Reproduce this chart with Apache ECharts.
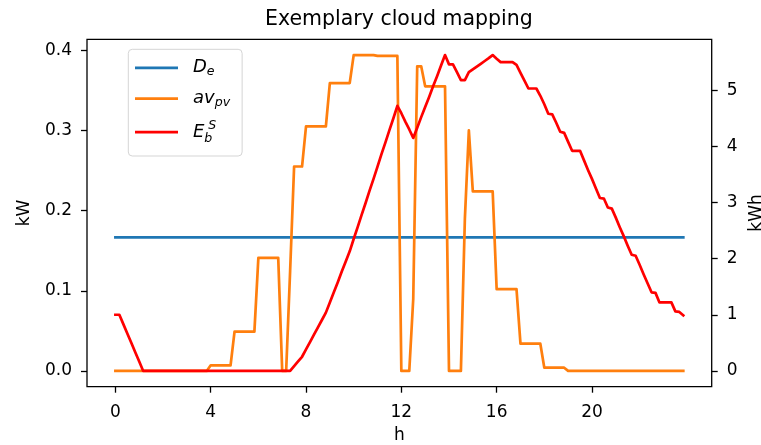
<!DOCTYPE html>
<html><head><meta charset="utf-8">
<script src="https://cdn.jsdelivr.net/npm/echarts@6/dist/echarts.min.js"></script>
<style>html,body{margin:0;padding:0;background:#fff}#c{width:761px;height:445px}</style>
</head><body><div id="c"></div>
<script>
// time stamps (minutes after midnight), 10-minute resolution
const minutes = [
  0,10,20,30,40,50, 60,70,80,90,100,110, 120,130,140,150,160,170, 180,190,200,210,220,230,
  240,250,260,270,280,290, 300,310,320,330,340,350, 360,370,380,390,400,410, 420,430,440,450,460,470,
  480,490,500,510,520,530, 540,550,560,570,580,590, 600,610,620,630,640,650, 660,670,680,690,700,710,
  720,730,740,750,760,770, 780,790,800,810,820,830, 840,850,860,870,880,890, 900,910,920,930,940,950,
  960,970,980,990,1000,1010, 1020,1030,1040,1050,1060,1070, 1080,1090,1100,1110,1120,1130, 1140,1150,1160,1170,1180,1190,
  1200,1210,1220,1230,1240,1250, 1260,1270,1280,1290,1300,1310, 1320,1330,1340,1350,1360,1370, 1380,1390,1400,1410,1420,1430
];
// D_e (kW)
const demand = [
  0.1667,0.1667,0.1667,0.1667,0.1667,0.1667, 0.1667,0.1667,0.1667,0.1667,0.1667,0.1667,
  0.1667,0.1667,0.1667,0.1667,0.1667,0.1667, 0.1667,0.1667,0.1667,0.1667,0.1667,0.1667,
  0.1667,0.1667,0.1667,0.1667,0.1667,0.1667, 0.1667,0.1667,0.1667,0.1667,0.1667,0.1667,
  0.1667,0.1667,0.1667,0.1667,0.1667,0.1667, 0.1667,0.1667,0.1667,0.1667,0.1667,0.1667,
  0.1667,0.1667,0.1667,0.1667,0.1667,0.1667, 0.1667,0.1667,0.1667,0.1667,0.1667,0.1667,
  0.1667,0.1667,0.1667,0.1667,0.1667,0.1667, 0.1667,0.1667,0.1667,0.1667,0.1667,0.1667,
  0.1667,0.1667,0.1667,0.1667,0.1667,0.1667, 0.1667,0.1667,0.1667,0.1667,0.1667,0.1667,
  0.1667,0.1667,0.1667,0.1667,0.1667,0.1667, 0.1667,0.1667,0.1667,0.1667,0.1667,0.1667,
  0.1667,0.1667,0.1667,0.1667,0.1667,0.1667, 0.1667,0.1667,0.1667,0.1667,0.1667,0.1667,
  0.1667,0.1667,0.1667,0.1667,0.1667,0.1667, 0.1667,0.1667,0.1667,0.1667,0.1667,0.1667,
  0.1667,0.1667,0.1667,0.1667,0.1667,0.1667, 0.1667,0.1667,0.1667,0.1667,0.1667,0.1667,
  0.1667,0.1667,0.1667,0.1667,0.1667,0.1667, 0.1667,0.1667,0.1667,0.1667,0.1667,0.1667
];
// av_pv (kW)
const pvAvail = [
  0,0,0,0,0,0, 0,0,0,0,0,0, 0,0,0,0,0,0, 0,0,0,0,0,0,
  0.007,0.007,0.007,0.007,0.007,0.007, 0.049,0.049,0.049,0.049,0.049,0.049,
  0.141,0.141,0.141,0.141,0.141,0.141, 0,0,0.125,0.255,0.255,0.255,
  0.305,0.305,0.305,0.305,0.305,0.305, 0.359,0.359,0.359,0.359,0.359,0.359,
  0.394,0.394,0.394,0.394,0.394,0.394, 0.393,0.393,0.393,0.393,0.393,0.393,
  0,0,0,0.09,0.38,0.38, 0.355,0.355,0.355,0.355,0.355,0.355,
  0,0,0,0,0.19,0.30, 0.224,0.224,0.224,0.224,0.224,0.224,
  0.102,0.102,0.102,0.102,0.102,0.102, 0.034,0.034,0.034,0.034,0.034,0.034,
  0.004,0.004,0.004,0.004,0.004,0.004, 0,0,0,0,0,0,
  0,0,0,0,0,0, 0,0,0,0,0,0, 0,0,0,0,0,0, 0,0,0,0,0,0
];
// E_b^S (kWh)
const battery = [
  1.0,1.0,0.833,0.667,0.5,0.333, 0.167,0,0,0,0,0, 0,0,0,0,0,0, 0,0,0,0,0,0,
  0,0,0,0,0,0, 0,0,0,0,0,0, 0,0,0,0,0,0, 0,0,0,0.084,0.168,0.252,
  0.383,0.514,0.645,0.776,0.907,1.038, 1.22,1.40,1.58,1.77,1.95,2.13,
  2.35,2.56,2.78,2.99,3.21,3.42, 3.64,3.86,4.07,4.29,4.50,4.72,
  4.59,4.44,4.30,4.15,4.33,4.52, 4.70,4.88,5.07,5.25,5.44,5.625,
  5.46,5.46,5.32,5.18,5.18,5.32, 5.37,5.42,5.47,5.52,5.57,5.625,
  5.56,5.50,5.50,5.50,5.50,5.45, 5.31,5.17,5.03,5.03,5.03,4.90,
  4.75,4.58,4.57,4.42,4.26,4.24, 4.08,3.92,3.92,3.92,3.75,3.58,
  3.42,3.25,3.08,3.07,2.91,2.89, 2.73,2.56,2.40,2.23,2.07,2.05,
  1.89,1.72,1.56,1.40,1.39,1.22, 1.22,1.22,1.22,1.06,1.05,0.99
];
const xTicks = [0,4,8,12,16,20];
const kwTicks = [0,0.1,0.2,0.3,0.4];
const kwhTicks = [0,1,2,3,4,5];
const seriesNames = ['D_e','av_pv','E_b^S'];
const titleText = 'Exemplary cloud mapping';

const F = 'DejaVu Sans';
const pair = arr => minutes.map((m,i)=>[m/60, arr[i]]);
const xMax = minutes[minutes.length-1]/60;
const kwMax = Math.max(...pvAvail, ...demand);
const kwhMax = Math.max(...battery);
const pad = 0.05;

const legendFmt = {
  'D_e': '{m|D}{sub|e}',
  'av_pv': '{m|av}{sub|pv}',
  'E_b^S': '{m|E}{subz|b}{sup|S}'
};
const tickStyle = {show:true, length:6, inside:false, lineStyle:{color:'#000', width:1.3}};
const labelBase = {fontFamily:F, fontSize:17, color:'#000'};
const LW = 2.7;

const chart = echarts.init(document.getElementById('c'), null, {renderer:'canvas'});
chart.setOption({
  animation:false,
  backgroundColor:'#fff',
  title:{text:titleText, left:265, top:0, padding:[9.5,0,0,0],
    textStyle:{fontFamily:F, fontSize:20.5, fontWeight:'normal', color:'#000'}},
  grid:{left:87, right:49.3, top:39.3, bottom:58.3, containLabel:false, outerBoundsMode:'none',
    show:true, borderColor:'#000', borderWidth:1.3, backgroundColor:'transparent'},
  legend:{
    orient:'vertical', left:128.3, top:49.3, padding:[7.7,12,10.6,6.7],
    itemGap:9.3, itemWidth:43, itemHeight:LW, icon:'rect', selectedMode:false,
    backgroundColor:'rgba(255,255,255,0.8)', borderColor:'#d5d5d5', borderWidth:1, borderRadius:4,
    data:seriesNames,
    formatter: n => legendFmt[n],
    textStyle:{ fontFamily:F, fontSize:18, color:'#000',
      rich:{
        m:{fontFamily:F, fontStyle:'italic', fontSize:18, lineHeight:24, color:'#000', padding:[0,0,0,10]},
        sub:{fontFamily:F, fontStyle:'italic', fontSize:12.6, lineHeight:10, color:'#000', padding:[8.6,0,0,0]},
        subz:{fontFamily:F, fontStyle:'italic', fontSize:12.6, lineHeight:10, width:0, color:'#000', padding:[13.6,0,0,0]},
        sup:{fontFamily:F, fontStyle:'italic', fontSize:12.6, lineHeight:10, color:'#000', padding:[0,0,13,4]}
      }
    }
  },
  xAxis:{type:'value', min:-pad*xMax, max:xMax*(1+pad),
    name:'h', nameLocation:'middle', nameGap:40, nameTextStyle:labelBase,
    axisLine:{show:false, onZero:false}, splitLine:{show:false},
    axisTick:Object.assign({customValues:xTicks}, tickStyle),
    axisLabel:Object.assign({customValues:xTicks, margin:17, formatter:v=>String(v)}, labelBase)
  },
  yAxis:[
    {type:'value', position:'left', min:-pad*kwMax, max:kwMax*(1+pad),
      name:'kW', nameLocation:'middle', nameGap:54, nameRotate:90, nameTextStyle:labelBase,
      axisLine:{show:false, onZero:false}, splitLine:{show:false},
      axisTick:Object.assign({customValues:kwTicks}, tickStyle),
      axisLabel:Object.assign({customValues:kwTicks, margin:15, formatter:v=>v.toFixed(1)}, labelBase)
    },
    {type:'value', position:'right', min:-pad*kwhMax, max:kwhMax*(1+pad),
      name:'kWh', nameLocation:'middle', nameGap:35, nameRotate:90, nameTextStyle:labelBase,
      axisLine:{show:false, onZero:false}, splitLine:{show:false},
      axisTick:Object.assign({customValues:kwhTicks}, tickStyle),
      axisLabel:Object.assign({customValues:kwhTicks, margin:15, formatter:v=>String(v)}, labelBase)
    }
  ],
  series:[
    {name:'D_e', type:'line', yAxisIndex:0, data:pair(demand), symbol:'none', showSymbol:false,
      lineStyle:{color:'#1f77b4', width:LW, cap:'square', join:'round'}, itemStyle:{color:'#1f77b4'}, z:2},
    {name:'av_pv', type:'line', yAxisIndex:0, data:pair(pvAvail), symbol:'none', showSymbol:false,
      lineStyle:{color:'#ff7f0e', width:LW, cap:'square', join:'round'}, itemStyle:{color:'#ff7f0e'}, z:3},
    {name:'E_b^S', type:'line', yAxisIndex:1, data:pair(battery), symbol:'none', showSymbol:false,
      lineStyle:{color:'#ff0000', width:LW, cap:'square', join:'round'}, itemStyle:{color:'#ff0000'}, z:4}
  ]
});
</script></body></html>
